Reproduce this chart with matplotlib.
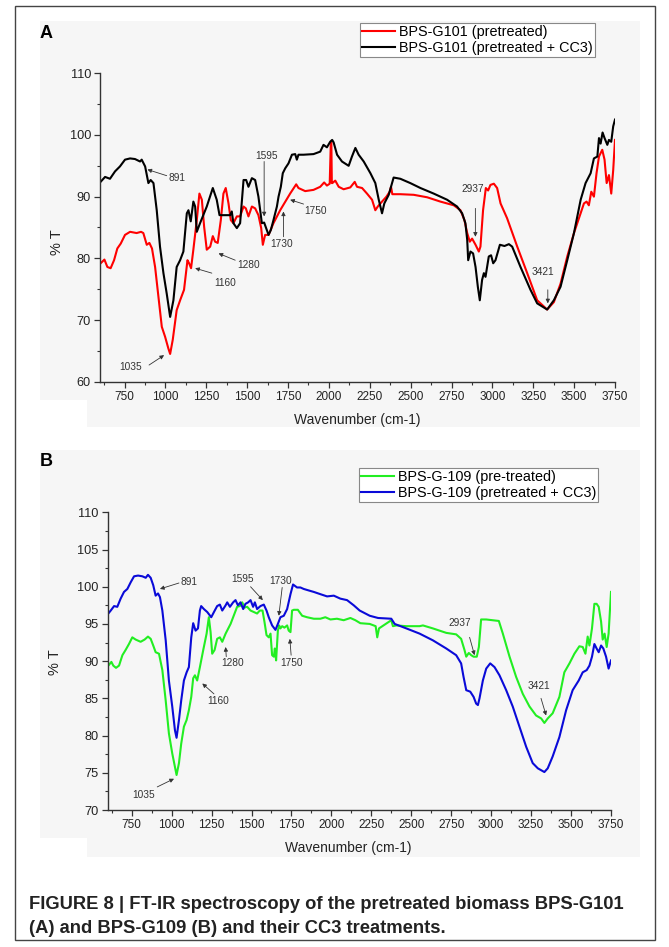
import matplotlib
matplotlib.use("Agg")
import matplotlib.pyplot as plt
from matplotlib.patches import Rectangle
from matplotlib.ticker import MultipleLocator

plt.rcParams['font.family'] = ['Liberation Sans', 'DejaVu Sans']

# ---------------- data: panel A ----------------
a_red_x = [600, 627, 645, 665, 686, 706, 727, 753, 784, 824, 851, 865, 886, 902, 918, 937, 957, 978, 998,
           1018, 1029, 1045, 1069, 1090, 1114, 1135, 1145, 1157, 1171, 1192, 1208, 1223, 1237, 1253, 1274,
           1290, 1304, 1320, 1339, 1355, 1369, 1386, 1400, 1416, 1437, 1457, 1478, 1492, 1508, 1529, 1549,
           1569, 1586, 1596, 1610, 1631, 1661, 1702, 1763, 1800, 1814, 1855, 1906, 1947, 1971, 1988, 2005,
           2012, 2015, 2018, 2021, 2039, 2060, 2090, 2131, 2158, 2172, 2203, 2233, 2264, 2284, 2299, 2325,
           2352, 2372, 2380, 2388, 2437, 2519, 2601, 2682, 2764, 2805, 2829, 2846, 2862, 2876, 2897, 2917,
           2927, 2943, 2960, 2974, 2988, 3009, 3029, 3050, 3090, 3152, 3213, 3274, 3335, 3376, 3417, 3458,
           3499, 3540, 3560, 3576, 3590, 3605, 3621, 3637, 3652, 3672, 3686, 3699, 3713, 3727, 3739, 3750]
a_red_y = [79.1, 79.8, 78.6, 78.4, 79.7, 81.6, 82.4, 83.8, 84.3, 84.1, 84.3, 84.1, 82.2, 82.5, 81.6, 78.6,
           73.8, 68.9, 67.3, 65.4, 64.5, 66.8, 71.6, 73.2, 74.9, 79.7, 79.2, 78.4, 81.4, 86.2, 90.5, 89.5,
           85.1, 81.4, 81.9, 83.6, 82.7, 82.5, 86.2, 90.5, 91.4, 88.9, 86.2, 85.7, 86.8, 86.8, 88.4, 88.1,
           86.8, 88.4, 88.1, 87.0, 84.9, 82.2, 83.8, 83.8, 85.7, 87.8, 90.5, 92.0, 91.4, 90.9, 91.1, 91.6,
           92.3, 91.8, 92.1, 98.9, 98.9, 92.2, 92.2, 92.6, 91.6, 91.2, 91.5, 92.4, 91.6, 91.4, 90.5, 89.5,
           87.8, 88.4, 89.2, 90.0, 90.8, 91.6, 90.4, 90.4, 90.3, 89.9, 89.2, 88.6, 87.8, 86.2, 84.1, 82.7,
           83.2, 82.2, 81.1, 81.9, 87.8, 91.4, 91.0, 91.9, 92.1, 91.4, 88.9, 86.5, 81.9, 77.6, 73.2, 71.7,
           72.9, 75.9, 80.3, 84.1, 87.3, 88.9, 89.2, 88.6, 90.8, 90.0, 93.8, 96.5, 97.6, 96.0, 92.2, 93.5,
           90.5, 94.3, 99.2]

a_black_x = [600, 631, 661, 692, 722, 753, 784, 814, 845, 855, 876, 896, 910, 927, 947, 967, 988, 1008,
             1029, 1049, 1069, 1090, 1110, 1131, 1141, 1155, 1171, 1182, 1192, 1212, 1253, 1290, 1314, 1331,
             1355, 1396, 1406, 1416, 1437, 1457, 1478, 1494, 1508, 1529, 1549, 1569, 1590, 1604, 1616, 1631,
             1645, 1661, 1682, 1692, 1706, 1718, 1733, 1753, 1774, 1794, 1804, 1814, 1845, 1906, 1947, 1967,
             1988, 2008, 2020, 2029, 2050, 2080, 2121, 2141, 2162, 2182, 2213, 2254, 2284, 2305, 2325, 2339,
             2366, 2396, 2437, 2498, 2560, 2641, 2723, 2784, 2815, 2835, 2846, 2852, 2866, 2882, 2897, 2911,
             2923, 2937, 2948, 2958, 2968, 2978, 2992, 3005, 3019, 3046, 3074, 3101, 3121, 3172, 3233, 3274,
             3335, 3376, 3417, 3458, 3499, 3540, 3570, 3601, 3621, 3642, 3652, 3662, 3674, 3686, 3703, 3713,
             3727, 3739, 3750]
a_black_y = [92.3, 93.2, 92.9, 94.1, 94.9, 96.0, 96.2, 96.1, 95.7, 96.0, 94.9, 92.2, 92.7, 92.2, 87.8, 81.9,
             77.6, 74.3, 70.5, 73.2, 78.6, 79.7, 81.1, 87.3, 87.8, 86.0, 89.2, 88.4, 84.3, 85.7, 88.4, 91.4,
             89.5, 87.0, 87.0, 87.0, 87.6, 85.7, 84.9, 85.7, 92.7, 92.7, 91.6, 93.0, 92.7, 90.0, 85.7, 85.8,
             84.9, 83.8, 84.6, 86.2, 88.4, 90.0, 91.6, 93.8, 94.6, 95.4, 96.8, 96.9, 96.0, 96.8, 96.8, 96.9,
             97.3, 98.4, 98.0, 98.9, 99.2, 98.8, 96.8, 95.7, 95.0, 96.5, 97.9, 96.8, 95.7, 93.8, 92.2, 89.5,
             87.3, 88.9, 90.3, 93.1, 92.9, 92.2, 91.4, 90.5, 89.5, 88.4, 87.3, 85.7, 83.0, 79.7, 81.1, 80.8,
             78.6, 75.4, 73.2, 76.5, 77.6, 77.0, 78.6, 80.3, 80.5, 79.2, 79.7, 82.2, 82.0, 82.3, 81.9, 78.6,
             74.9, 72.7, 71.7, 73.2, 75.4, 79.7, 84.1, 89.5, 92.2, 93.8, 96.2, 96.5, 99.5, 98.6, 100.4, 99.5,
             98.4, 99.2, 98.9, 101.4, 102.5]

# ---------------- data: panel B ----------------
b_green_x = [604, 623, 635, 652, 671, 692, 712, 733, 754, 775, 806, 831, 852, 869, 885, 900, 921, 942, 963,
             983, 1004, 1021, 1031, 1046, 1060, 1077, 1094, 1108, 1123, 1135, 1146, 1160, 1177, 1198, 1219,
             1233, 1244, 1254, 1269, 1285, 1302, 1317, 1338, 1369, 1394, 1410, 1427, 1442, 1456, 1473, 1494,
             1515, 1535, 1552, 1569, 1581, 1594, 1608, 1619, 1629, 1640, 1646, 1654, 1665, 1673, 1681, 1692,
             1706, 1723, 1733, 1744, 1754, 1765, 1790, 1817, 1848, 1890, 1931, 1962, 1994, 2035, 2077, 2119,
             2150, 2181, 2240, 2277, 2287, 2298, 2333, 2375, 2385, 2406, 2469, 2552, 2573, 2635, 2719, 2781,
             2812, 2833, 2844, 2860, 2875, 2890, 2910, 2923, 2937, 2969, 3010, 3048, 3073, 3115, 3156, 3198,
             3240, 3281, 3313, 3333, 3354, 3385, 3427, 3458, 3490, 3521, 3552, 3573, 3590, 3604, 3615, 3631,
             3646, 3660, 3673, 3688, 3698, 3710, 3723, 3735, 3750]
b_green_y = [89.4, 89.9, 89.4, 89.1, 89.4, 90.8, 91.5, 92.3, 93.2, 92.9, 92.6, 92.9, 93.3, 93.0, 92.1, 91.2,
             91.0, 88.8, 84.7, 80.3, 77.6, 75.8, 74.7, 76.3, 78.9, 81.2, 82.1, 83.4, 85.2, 87.7, 88.1, 87.4,
             89.2, 91.5, 93.7, 95.9, 93.9, 91.0, 91.5, 93.0, 93.2, 92.6, 93.7, 95.0, 96.4, 97.3, 97.4, 97.9,
             97.2, 97.3, 96.8, 96.6, 96.4, 96.8, 96.8, 95.3, 93.5, 93.2, 93.7, 90.8, 90.6, 91.7, 90.1, 94.1,
             94.8, 94.4, 94.7, 94.5, 94.8, 94.1, 93.9, 96.8, 96.9, 96.9, 96.1, 95.9, 95.7, 95.7, 95.9, 95.6,
             95.7, 95.5, 95.8, 95.5, 95.1, 95.0, 94.7, 93.2, 94.4, 94.9, 95.5, 94.7, 94.8, 94.7, 94.7, 94.8,
             94.4, 93.8, 93.6, 93.0, 91.5, 90.6, 91.1, 90.8, 90.6, 90.6, 91.9, 95.6, 95.6, 95.5, 95.4, 93.7,
             90.6, 87.9, 85.6, 83.9, 82.7, 82.3, 81.7, 82.3, 83.0, 85.2, 88.5, 89.7, 91.0, 92.0, 91.9, 91.0,
             93.3, 92.1, 94.4, 97.7, 97.7, 97.3, 95.3, 92.9, 93.7, 91.9, 93.7, 99.3]

b_blue_x = [604, 619, 640, 660, 681, 702, 723, 744, 765, 790, 817, 838, 852, 869, 885, 900, 915, 927, 942,
            963, 983, 1004, 1021, 1031, 1046, 1060, 1077, 1094, 1108, 1123, 1135, 1150, 1165, 1177, 1185,
            1202, 1223, 1248, 1265, 1285, 1302, 1317, 1338, 1348, 1365, 1385, 1400, 1415, 1431, 1448, 1462,
            1479, 1494, 1510, 1521, 1535, 1556, 1577, 1594, 1608, 1629, 1650, 1665, 1681, 1702, 1723, 1744,
            1760, 1785, 1806, 1827, 1858, 1890, 1931, 1973, 2015, 2056, 2098, 2140, 2177, 2240, 2292, 2375,
            2396, 2469, 2552, 2635, 2719, 2781, 2812, 2827, 2844, 2869, 2890, 2906, 2917, 2927, 2948, 2969,
            2994, 3021, 3052, 3094, 3135, 3177, 3219, 3260, 3292, 3333, 3354, 3385, 3427, 3469, 3510, 3548,
            3573, 3598, 3615, 3631, 3646, 3660, 3673, 3688, 3702, 3719, 3735, 3750]
b_blue_y = [96.4, 96.8, 97.4, 97.3, 98.4, 99.3, 99.7, 100.6, 101.4, 101.5, 101.4, 101.2, 101.6, 101.2, 100.2,
            98.8, 99.1, 98.6, 96.8, 92.8, 87.4, 83.9, 80.7, 79.7, 82.1, 84.7, 87.4, 88.5, 89.2, 93.2, 95.1,
            94.1, 94.4, 96.8, 97.4, 97.0, 96.6, 95.9, 96.6, 97.4, 97.6, 96.8, 97.5, 97.9, 97.3, 97.9, 98.2,
            97.5, 97.9, 97.0, 97.7, 97.9, 98.2, 97.3, 97.9, 97.0, 97.4, 97.6, 96.8, 95.9, 94.8, 94.2, 95.0,
            95.9, 96.1, 97.0, 99.0, 100.3, 99.9, 99.9, 99.7, 99.5, 99.3, 99.0, 98.7, 98.8, 98.4, 98.2, 97.5,
            96.8, 96.1, 95.8, 95.7, 95.0, 94.4, 93.7, 92.8, 91.7, 90.8, 89.7, 87.9, 86.1, 85.9, 85.2, 84.3,
            84.1, 85.0, 87.4, 89.0, 89.7, 89.2, 88.1, 86.1, 83.9, 81.2, 78.5, 76.3, 75.6, 75.1, 75.6, 77.2,
            79.8, 83.4, 86.1, 87.4, 88.5, 88.8, 89.4, 90.6, 92.3, 91.7, 91.2, 92.1, 91.7, 90.6, 89.0, 90.1]

a_labels = ["BPS-G101 (pretreated)", "BPS-G101 (pretreated + CC3)"]
b_labels = ["BPS-G-109 (pre-treated)", "BPS-G-109 (pretreated + CC3)"]
x_ticks = [750, 1000, 1250, 1500, 1750, 2000, 2250, 2500, 2750, 3000, 3250, 3500, 3750]

# peak annotations: (label, text x, text y, arrow tail x, tail y, head x, head y)
a_notes = [("891", 1069, 93.0, 1008, 93.4, 890, 94.4),
           ("1595", 1620, 96.6, 1604, 95.7, 1604, 86.8),
           ("1750", 1916, 87.7, 1845, 88.8, 1763, 89.5),
           ("1730", 1712, 82.4, 1722, 83.5, 1722, 87.6),
           ("1280", 1508, 78.9, 1427, 79.7, 1325, 80.8),
           ("1160", 1365, 76.0, 1284, 77.6, 1182, 78.4),
           ("1035", 784, 62.4, 900, 62.7, 992, 64.3),
           ("2937", 2882, 91.2, 2896, 88.1, 2896, 83.5),
           ("3421", 3311, 77.8, 3339, 74.9, 3339, 72.7)]
b_notes = [("891", 1108, 100.6, 1046, 100.5, 927, 99.7),
           ("1595", 1442, 101.1, 1494, 100.0, 1571, 98.2),
           ("1730", 1685, 100.8, 1692, 99.9, 1671, 96.1),
           ("1750", 1750, 89.8, 1748, 90.8, 1740, 93.0),
           ("1280", 1379, 89.8, 1342, 90.6, 1338, 91.9),
           ("1160", 1292, 84.7, 1265, 85.6, 1192, 87.0),
           ("1035", 827, 72.0, 910, 73.1, 1015, 74.2),
           ("2937", 2806, 95.1, 2865, 93.2, 2896, 90.8),
           ("3421", 3298, 86.6, 3312, 85.0, 3344, 82.7)]

# ---------------- figure ----------------
W, H = 669, 947
fig = plt.figure(figsize=(W / 100, H / 100), dpi=100)


def rect(x0, y0, x1, y1):
    return [x0 / W, 1 - y1 / H, (x1 - x0) / W, (y1 - y0) / H]


GRAY = '#f6f6f6'
for r in [(40, 21, 640, 400), (87, 400, 640, 427), (40, 450, 640, 838), (87, 838, 640, 857)]:
    x, y, w, h = rect(*r)
    fig.patches.append(Rectangle((x, y), w, h, transform=fig.transFigure, facecolor=GRAY,
                                 edgecolor='none', zorder=-5))
x, y, w, h = rect(15, 6, 655, 940)
fig.patches.append(Rectangle((x, y), w, h, transform=fig.transFigure, fill=False,
                             edgecolor='#444444', lw=1.0, zorder=-4))

axA = fig.add_axes(rect(100, 73.3, 615, 381.7))
axB = fig.add_axes(rect(107.7, 512.3, 611, 810))


def style(ax, ylo, yhi, ymaj, ymin):
    ax.set_facecolor('none')
    ax.set_xlim(600, 3750)
    ax.set_ylim(ylo, yhi)
    for s in ['top', 'right']:
        ax.spines[s].set_visible(False)
    for s in ['left', 'bottom']:
        ax.spines[s].set_color('#333333')
        ax.spines[s].set_linewidth(1.0)
    ax.set_xticks(x_ticks)
    ax.xaxis.set_minor_locator(MultipleLocator(125))
    ax.yaxis.set_major_locator(MultipleLocator(ymaj))
    ax.yaxis.set_minor_locator(MultipleLocator(ymin))
    ax.tick_params(which='major', length=4, width=0.9, color='#333333', labelsize=8.5,
                   labelcolor='#222222', pad=2.5)
    ax.tick_params(axis='y', which='major', labelsize=9.2)
    ax.tick_params(which='minor', length=2.5, width=0.8, color='#333333')


style(axA, 60, 110, 10, 5)
style(axB, 70, 110, 5, 2.5)

axA.plot(a_red_x, a_red_y, color='#ff0000', lw=1.5, label=a_labels[0])
axA.plot(a_black_x, a_black_y, color='#000000', lw=1.5, label=a_labels[1])
axB.plot(b_green_x, b_green_y, color='#22ee22', lw=1.5, label=b_labels[0])
axB.plot(b_blue_x, b_blue_y, color='#0a0ad8', lw=1.5, label=b_labels[1])

for ax, notes in [(axA, a_notes), (axB, b_notes)]:
    for lab, tx, ty, ax0, ay0, hx, hy in notes:
        ax.annotate('', xy=(hx, hy), xytext=(ax0, ay0),
                    arrowprops=dict(arrowstyle='-|>', color='#333333', lw=0.6,
                                    mutation_scale=6, shrinkA=0, shrinkB=0))
        ax.text(tx, ty, lab, fontsize=7.3, color='#333333', ha='center', va='center')

for ax, lx, ly, xx, xy in [(axA, -0.0705, 0.453, 0.499, -0.1015), (axB, -0.0908, 0.497, 0.477, -0.104)]:
    ax.set_ylabel('% T', fontsize=10.5, color='#222222')
    ax.yaxis.set_label_coords(lx, ly)
    ax.set_xlabel('Wavenumber (cm-1)', fontsize=10, color='#222222')
    ax.xaxis.set_label_coords(xx, xy)

for ax, x0, y0 in [(axA, 360, 23), (axB, 359, 468)]:
    leg = ax.legend(loc='upper left', bbox_to_anchor=(x0 / W, 1 - y0 / H),
                    bbox_transform=fig.transFigure, fontsize=10.4, frameon=True, fancybox=False,
                    borderpad=0.12, borderaxespad=0, labelspacing=0.15, handlelength=2.3,
                    handletextpad=0.3, edgecolor='#888888', facecolor='white', framealpha=1)
    leg.get_frame().set_linewidth(0.8)

fig.text(40 / W, 1 - 33 / H, 'A', fontsize=13, fontweight='bold', va='center', ha='left')
fig.text(40 / W, 1 - 462 / H, 'B', fontsize=13, fontweight='bold', va='center', ha='left')

fig.text(29 / W, 1 - 904 / H, 'FIGURE 8 | FT-IR spectroscopy of the pretreated biomass BPS-G101',
         fontsize=13.2, fontweight='bold', color='#222222', va='center', ha='left')
fig.text(29 / W, 1 - 928 / H, '(A) and BPS-G109 (B) and their CC3 treatments.',
         fontsize=13.2, fontweight='bold', color='#222222', va='center', ha='left')

fig.savefig('out.png', dpi=100, facecolor='white')
